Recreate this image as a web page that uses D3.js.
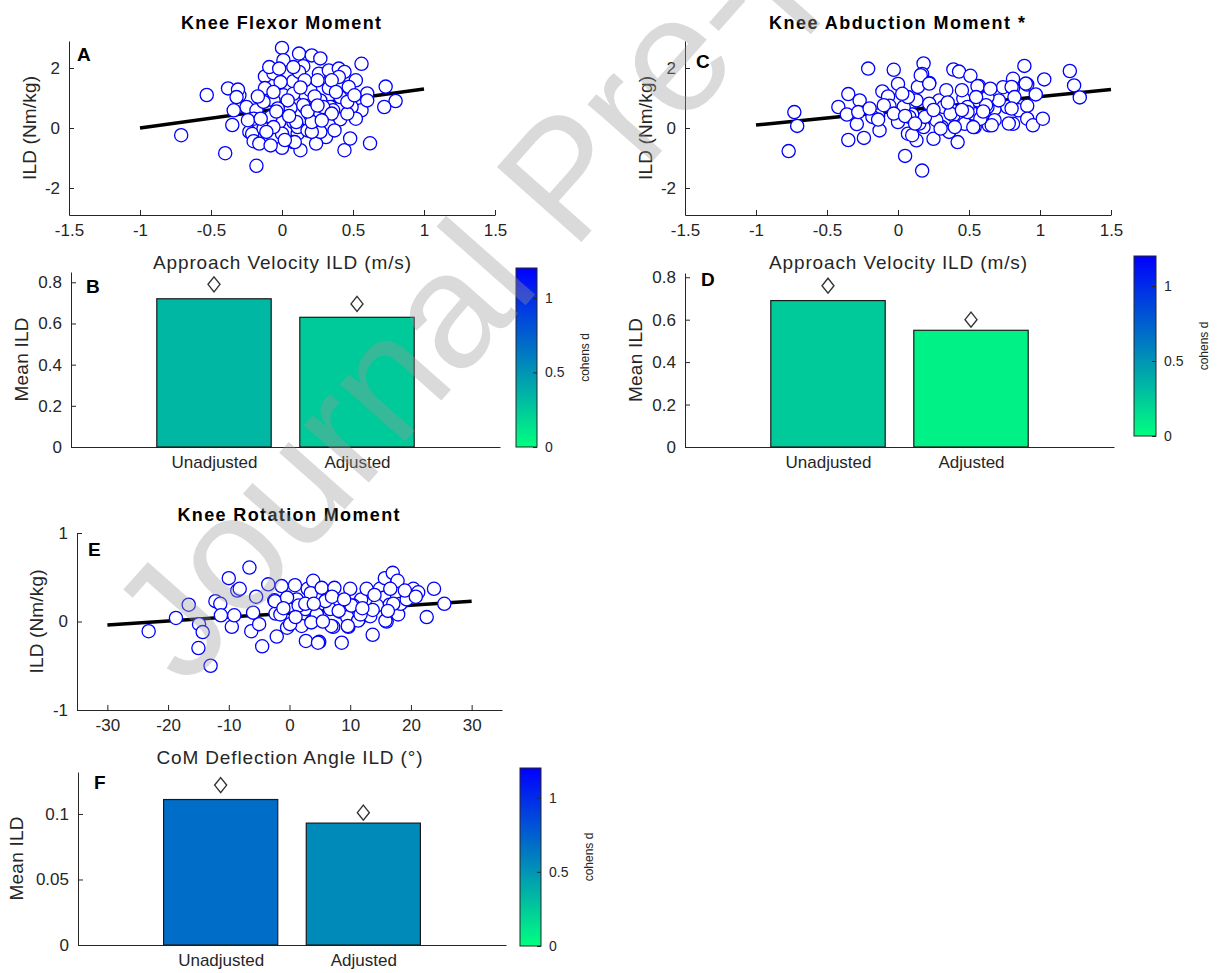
<!DOCTYPE html>
<html>
<head>
<meta charset="utf-8">
<script src="https://cdn.jsdelivr.net/npm/d3@7"></script>
<style>
  body { margin: 0; background: #fff; }
  svg { font-family: "Liberation Sans", Arial, sans-serif; }
</style>
</head>
<body>
<svg id="fig" width="1220" height="973"></svg>
<script>
// ---- data ----
// panel A: approach velocity ILD (m/s) vs knee flexor moment ILD (Nm/kg)
const flexorPts = [
  [-0.53,1.10],[-0.38,1.32],[-0.71,-0.24],[-0.35,0.10],[-0.40,-0.84],[-0.18,-1.26],
  [0.00,2.67],[0.12,2.48],[0.21,2.42],[0.27,2.32],[0.56,2.14],[0.73,1.38],[0.80,0.90],
  [0.72,0.70],[0.62,-0.51],[0.44,-0.74],[0.48,-0.35],[0.13,-0.74],[0.00,-0.66],
  [-0.30,1.09],[-0.31,1.28],[-0.25,0.70],[-0.23,-0.13],[-0.21,-0.20],[-0.20,-0.44],[-0.16,-0.52],
  [-0.12,1.72],[-0.06,1.82],[0.15,2.06],[0.26,1.81],[0.33,1.92],[0.40,1.98],[0.44,1.87],
  [0.52,1.59],[0.40,1.70],[0.55,0.92],[0.56,0.59],[0.60,1.15],[0.47,1.37],[0.41,1.03],
  [0.41,0.29],[0.34,0.70],[0.33,0.09],[0.31,-0.30],[0.22,0.20],[0.16,0.70],[0.16,1.14],
  [0.08,1.56],[-0.01,1.53],[0.01,1.09],[0.06,0.67],[0.08,0.20],[0.11,-0.19],[-0.02,0.20],
  [0.00,-0.19],[-0.11,0.92],[-0.12,1.33],[-0.08,0.37],[0.08,-0.47],[0.24,-0.52],[0.20,1.26],
  [0.27,0.92],[0.33,1.33],[0.35,1.59],[0.25,1.59],[0.08,1.14],[-0.18,0.59],[-0.34,0.59],
  [-0.32,1.03],[-0.20,0.31],[-0.13,-0.02],[-0.06,0.92],[0.12,1.87],[0.01,2.26],[-0.09,2.03],
  [0.36,0.59],[0.49,0.70],[0.52,0.31],[0.46,0.48],[0.60,0.92],[0.20,0.42],[0.27,0.48],
  [0.04,0.92],[0.11,0.03],[-0.06,0.03],[0.27,-0.13],[0.18,-0.08],[-0.24,0.26],
  [-0.13,0.87],[-0.06,1.20],[-0.08,-0.58],[-0.02,1.98],[-0.03,0.65],[-0.15,0.31],[-0.11,-0.13],
  [0.15,0.76],[0.29,0.70],[0.21,-0.13],[0.37,-0.08],[0.09,-0.47],[0.35,0.48],[0.46,0.87],
  [0.51,1.09],[0.16,1.59],[0.08,2.03],[0.10,0.20],[0.21,0.20],[0.05,0.40],[0.18,0.55],
  [-0.04,0.55],[0.28,0.25],[0.38,1.20],[-0.17,1.05],[0.13,1.35],[0.23,1.05],[0.02,-0.40],[0.25,0.75]
];
const flexorFit = [[-1, 0.0], [1, 1.30]];

// panel C: approach velocity ILD vs knee abduction moment ILD
const abductionPts = [
  [-0.77,-0.77],[-0.73,0.53],[-0.71,0.07],[-0.35,1.13],[-0.42,0.70],[-0.36,0.45],[-0.35,-0.40],
  [-0.27,0.92],[-0.29,0.13],[-0.24,-0.33],[-0.21,1.98],[-0.14,0.42],[-0.13,-0.08],[-0.11,1.22],
  [-0.07,1.05],[-0.03,1.94],[0.00,1.47],[-0.06,0.74],[0.00,0.20],[0.05,-0.93],[0.07,-0.19],
  [0.13,-0.41],[0.13,0.92],[0.10,0.45],[0.14,1.37],[0.17,-1.42],[0.18,2.15],[0.17,1.80],
  [0.22,1.50],[0.20,0.37],[0.25,-0.36],[0.29,0.92],[0.31,0.03],[0.34,1.26],[0.36,-0.13],
  [0.39,1.95],[0.39,0.42],[0.42,-0.47],[0.43,1.88],[0.46,0.98],[0.47,0.14],[0.51,1.74],
  [0.53,0.48],[0.56,0.92],[0.54,0.03],[0.57,1.40],[0.59,0.37],[0.64,0.09],[0.68,0.64],
  [0.74,1.36],[0.77,0.70],[0.81,1.64],[0.81,1.33],[0.81,0.14],[0.85,0.59],[0.89,2.07],
  [0.91,1.45],[0.91,0.74],[0.91,0.31],[0.95,0.09],[0.97,1.12],[1.02,0.31],[1.03,1.62],
  [1.21,1.90],[1.24,1.42],[1.28,1.02],[-0.18,0.37],[-0.10,0.76],[0.04,0.70],[0.07,1.03],
  [0.32,0.70],[0.49,0.70],[0.71,0.92],[0.63,1.03],[0.38,0.59],[0.27,0.26],[0.18,0.03],
  [0.22,0.81],[0.03,1.14],[-0.03,0.48],[0.68,0.26],[0.63,0.70],[-0.28,0.53],[-0.14,0.28],
  [0.10,-0.24],[0.08,0.37],[0.16,1.76],[0.15,0.15],[0.19,0.37],[0.90,1.48],[0.80,1.37],
  [0.82,1.03],[0.80,0.65],[0.78,0.15],[0.66,0.09],[0.62,0.76],[0.56,1.39],[0.55,1.03],
  [0.49,0.53],[0.58,0.31],[0.53,0.03],[0.30,-0.02],[0.37,0.48],[0.22,1.48],[0.40,0.03],
  [0.65,1.31],[0.45,1.26],[0.05,0.40],[0.25,0.60],[0.35,0.85],[0.12,0.15],[0.45,0.60],
  [0.60,0.55],[-0.20,0.65]
];
const abductionFit = [[-1, 0.10], [1.5, 1.28]];

// panel E: CoM deflection angle ILD (deg) vs knee rotation moment ILD
const rotationPts = [
  [-23.2,-0.11],[-18.7,0.04],[-16.6,0.19],[-14.9,-0.03],[-14.3,-0.12],[-15.0,-0.30],[-13.0,-0.50],
  [-12.2,0.23],[-11.4,0.20],[-11.3,0.07],[-10.0,0.49],[-9.5,-0.06],[-9.1,0.07],[-8.6,0.35],
  [-8.2,0.37],[-6.6,0.61],[-6.3,-0.11],[-5.5,0.28],[-5.0,-0.03],[-6.0,0.10],[-4.5,-0.28],
  [-3.5,0.42],[-2.5,0.24],[-2.1,-0.17],[-2.3,0.09],[-1.3,0.40],[-0.4,-0.07],[0.1,0.18],
  [0.9,0.41],[1.2,0.25],[2.0,-0.05],[2.6,0.14],[2.7,-0.22],[3.0,0.37],[3.9,0.46],[3.5,0.32],
  [3.7,0.00],[4.9,-0.23],[5.3,0.38],[6.0,0.24],[7.2,-0.06],[7.4,0.38],[8.4,0.11],[8.6,-0.24],
  [9.5,0.05],[9.7,-0.06],[10.0,0.37],[11.4,0.02],[11.8,0.25],[12.7,0.37],[12.9,0.07],[13.7,-0.15],
  [14.9,0.37],[15.7,0.49],[15.6,0.27],[16.0,0.00],[16.5,0.19],[17.0,0.55],[17.8,0.46],[17.9,0.08],
  [18.3,0.20],[20.4,0.37],[21.2,0.33],[22.6,0.05],[23.8,0.37],[25.5,0.20],[16.6,0.37],[14.4,0.18],
  [10.5,0.18],[6.7,0.14],[4.5,0.08],[-1.5,0.08],[19.3,0.25],[13.3,0.06],[-2.4,0.23],[-0.4,0.27],
  [5.9,0.23],[8.1,0.12],[13.7,0.13],[15.8,0.01],[17.1,0.20],[11.3,0.01],[9.6,-0.05],[4.7,-0.24],
  [3.6,-0.01],[6.9,-0.05],[1.5,0.18],[0.1,-0.03],[2.6,0.20],[10.2,0.18],[11.7,0.08],[-1.0,0.15],
  [1.0,0.05],[4.0,0.20],[7.0,0.28],[9.0,0.25],[12.0,0.15],[14.0,0.30],[19.0,0.35],[20.8,0.28],
  [16.2,0.12],[5.5,0.00]
];
const rotationFit = [[-30, -0.04], [30, 0.23]];

// bar panels B, D, F
const groups = ["Unadjusted", "Adjusted"];
const flexorMean = [0.72, 0.63];
const flexorMark = [0.79, 0.695];
const flexorD = [0.34, 0.25];
const abductionMean = [0.69, 0.55];
const abductionMark = [0.76, 0.60];
const abductionD = [0.25, 0.06];
const rotationMean = [0.111, 0.093];
const rotationMark = [0.122, 0.101];
const rotationD = [0.68, 0.55];
const cbTicks = [0, 0.5, 1];

// ---- drawing ----
const svg = d3.select("#fig");
const ink = "#262626";
const cmap = d3.scaleLinear().domain([0, 1.2]).range(["#00ff80", "#0000ff"]);

const grad = svg.append("defs").append("linearGradient")
  .attr("id", "cb").attr("x1", 0).attr("y1", 1).attr("x2", 0).attr("y2", 0);
d3.range(0, 1.2001, 0.1).forEach(v => {
  grad.append("stop").attr("offset", v / 1.2).attr("stop-color", cmap(v));
});

function styleAxis(sel, size) {
  sel.select(".domain").attr("stroke", ink).attr("stroke-width", 1);
  sel.selectAll(".tick line").attr("stroke", ink);
  sel.selectAll(".tick text").attr("fill", ink).style("font-size", size + "px");
  sel.attr("font-family", null);
}

function label(g, txt, x, y, o) {
  const t = g.append("text").text(txt)
    .attr("text-anchor", "middle")
    .attr("fill", o.color || ink)
    .style("font-size", o.size + "px")
    .style("font-weight", o.bold ? "bold" : "normal");
  if (o.len) t.attr("textLength", o.len).attr("lengthAdjust", "spacing");
  if (o.rot) t.attr("transform", `translate(${x},${y}) rotate(${o.rot})`);
  else t.attr("x", x).attr("y", y);
  return t;
}

function drawScatter(p) {
  const g = svg.append("g");
  const x = d3.scaleLinear().domain(p.xDom).range([p.left, p.right]);
  const y = d3.scaleLinear().domain(p.yDom).range([p.bottom, p.top]);

  g.append("g").attr("transform", `translate(0,${p.bottom})`)
    .call(d3.axisBottom(x).tickValues(p.xTicks).tickSize(-5).tickSizeOuter(0)
      .tickPadding(9).tickFormat(d => String(d)))
    .call(s => styleAxis(s, 17));
  g.append("g").attr("transform", `translate(${p.left},0)`)
    .call(d3.axisLeft(y).tickValues(p.yTicks).tickSize(-5).tickSizeOuter(0)
      .tickPadding(9).tickFormat(d => String(d)))
    .call(s => styleAxis(s, 17));

  g.append("line")
    .attr("x1", x(p.fit[0][0])).attr("y1", y(p.fit[0][1]))
    .attr("x2", x(p.fit[1][0])).attr("y2", y(p.fit[1][1]))
    .attr("stroke", "#000").attr("stroke-width", 3.5);

  g.selectAll("circle").data(p.pts).join("circle")
    .attr("cx", d => x(d[0])).attr("cy", d => y(d[1])).attr("r", 6.6)
    .attr("fill", "#fff").attr("stroke", "#0000ff").attr("stroke-width", 1.3);

  label(g, p.title, (p.left + p.right) / 2 - 1, p.top - 12, { size: 18, bold: true, len: p.titleLen, color: "#000" });
  label(g, p.xLabel, (p.left + p.right) / 2, p.bottom + 54, { size: 19, len: p.xLabelLen });
  label(g, p.yLabel, p.yLabelX, (p.top + p.bottom) / 2, { size: 19, rot: -90, len: 104 });
  g.append("text").text(p.letter).attr("x", p.letterX).attr("y", p.letterY)
    .attr("fill", "#000").style("font-size", "19px").style("font-weight", "bold");
}

function drawBars(p) {
  const g = svg.append("g");
  const x = d3.scaleLinear().domain([0, 3]).range([p.left, p.right]);
  const y = d3.scaleLinear().domain(p.yDom).range([p.bottom, p.top]);

  g.append("g").attr("transform", `translate(0,${p.bottom})`)
    .call(d3.axisBottom(x).tickValues([1, 2]).tickSize(-5).tickSizeOuter(0)
      .tickPadding(9).tickFormat(d => groups[d - 1]))
    .call(s => styleAxis(s, 17));
  g.append("g").attr("transform", `translate(${p.left},0)`)
    .call(d3.axisLeft(y).tickValues(p.yTicks).tickSize(-5).tickSizeOuter(0)
      .tickPadding(9).tickFormat(d => String(d)))
    .call(s => styleAxis(s, 17));

  g.selectAll("rect.bar").data(p.mean).join("rect").attr("class", "bar")
    .attr("x", (d, i) => x(i + 1 - 0.4)).attr("width", x(0.8) - x(0))
    .attr("y", d => y(d)).attr("height", d => y(0) - y(d))
    .attr("fill", (d, i) => cmap(p.d[i])).attr("stroke", "#1a1a1a").attr("stroke-width", 1.2);

  const diamond = "M0,-7.5L6,0L0,7.5L-6,0Z";
  g.selectAll("path.mk").data(p.mark).join("path").attr("class", "mk")
    .attr("d", diamond)
    .attr("transform", (d, i) => `translate(${x(i + 1)},${y(d)})`)
    .attr("fill", "none").attr("stroke", "#333").attr("stroke-width", 1.4);

  label(g, "Mean ILD", p.yLabelX, (p.top + p.bottom) / 2, { size: 19, rot: -90, len: 84 });
  g.append("text").text(p.letter).attr("x", p.letterX).attr("y", p.letterY)
    .attr("fill", "#000").style("font-size", "19px").style("font-weight", "bold");

  // colorbar
  const c = p.cb;
  const cy = d3.scaleLinear().domain([0, 1.2]).range([c.bottom, c.top]);
  g.append("rect").attr("x", c.left).attr("y", c.top)
    .attr("width", c.right - c.left).attr("height", c.bottom - c.top)
    .attr("fill", "url(#cb)").attr("stroke", ink).attr("stroke-width", 1);
  g.append("g").attr("transform", `translate(${c.right},0)`)
    .call(d3.axisRight(cy).tickValues(cbTicks).tickSize(-4).tickSizeOuter(0)
      .tickPadding(8).tickFormat(d => String(d)))
    .call(s => { styleAxis(s, 14); s.select(".domain").remove(); });
  label(g, "cohens d", c.right + 52, (c.top + c.bottom) / 2, { size: 12, rot: -90 });
}

drawScatter({
  left: 69, right: 495, top: 41, bottom: 215, xDom: [-1.5, 1.5], yDom: [-2.9, 2.9],
  xTicks: [-1.5, -1, -0.5, 0, 0.5, 1, 1.5], yTicks: [-2, 0, 2],
  pts: flexorPts, fit: flexorFit, title: "Knee Flexor Moment", titleLen: 200,
  xLabel: "Approach Velocity ILD (m/s)", xLabelLen: 258, yLabel: "ILD (Nm/kg)", yLabelX: 36,
  letter: "A", letterX: 77, letterY: 61
});
drawScatter({
  left: 685, right: 1111, top: 41, bottom: 215, xDom: [-1.5, 1.5], yDom: [-2.9, 2.9],
  xTicks: [-1.5, -1, -0.5, 0, 0.5, 1, 1.5], yTicks: [-2, 0, 2],
  pts: abductionPts, fit: abductionFit, title: "Knee Abduction Moment *", titleLen: 256,
  xLabel: "Approach Velocity ILD (m/s)", xLabelLen: 258, yLabel: "ILD (Nm/kg)", yLabelX: 652,
  letter: "C", letterX: 696, letterY: 68
});
drawScatter({
  left: 77, right: 502, top: 533, bottom: 710, xDom: [-35, 35], yDom: [-1, 1],
  xTicks: [-30, -20, -10, 0, 10, 20, 30], yTicks: [-1, 0, 1],
  pts: rotationPts, fit: rotationFit, title: "Knee Rotation Moment", titleLen: 222,
  xLabel: "CoM Deflection Angle ILD (°)", xLabelLen: 266, yLabel: "ILD (Nm/kg)", yLabelX: 43,
  letter: "E", letterX: 88, letterY: 556
});

drawBars({
  left: 71, right: 500, top: 272, bottom: 447, yDom: [0, 0.85], yTicks: [0, 0.2, 0.4, 0.6, 0.8],
  mean: flexorMean, mark: flexorMark, d: flexorD, yLabelX: 28, letter: "B", letterX: 86, letterY: 293,
  cb: { left: 516, right: 537, top: 268, bottom: 447 }
});
drawBars({
  left: 685, right: 1114, top: 273, bottom: 447, yDom: [0, 0.82], yTicks: [0, 0.2, 0.4, 0.6, 0.8],
  mean: abductionMean, mark: abductionMark, d: abductionD, yLabelX: 642, letter: "D", letterX: 701, letterY: 286,
  cb: { left: 1134, right: 1156, top: 256, bottom: 436 }
});
drawBars({
  left: 78, right: 506, top: 772, bottom: 945, yDom: [0, 0.132], yTicks: [0, 0.05, 0.1],
  mean: rotationMean, mark: rotationMark, d: rotationD, yLabelX: 23, letter: "F", letterX: 94, letterY: 789,
  cb: { left: 520, right: 541, top: 768, bottom: 946 }
});

// watermark
svg.append("text").text("Journal Pre-proof")
  .attr("transform", "translate(186,689) rotate(-48.5)")
  .attr("fill", "#999").attr("fill-opacity", 0.36)
  .style("font-size", "164px");
</script>
</body>
</html>
